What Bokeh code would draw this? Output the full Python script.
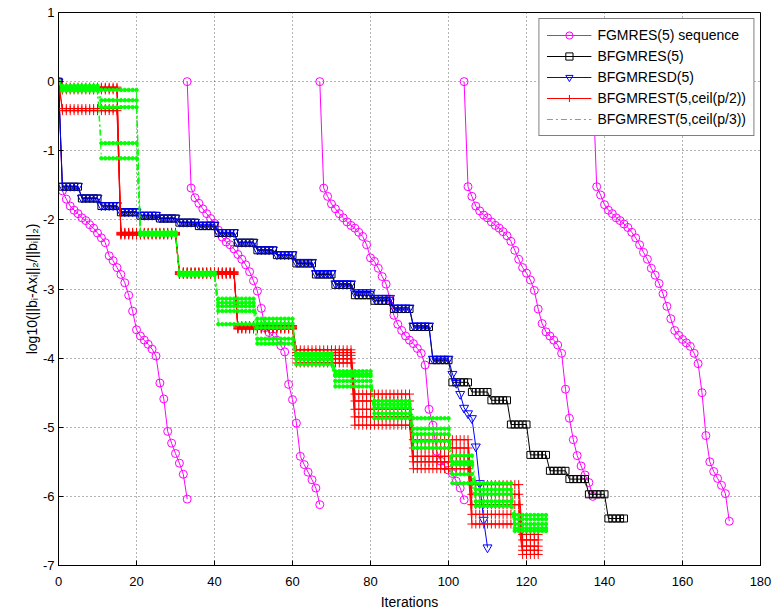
import numpy as np
from bokeh.plotting import figure
from bokeh.models import FixedTicker, Legend, LegendItem
from bokeh.embed import file_html
from bokeh.resources import INLINE

# ---------------- data ----------------
x_ticks = [0, 20, 40, 60, 80, 100, 120, 140, 160, 180]
y_ticks = [-7, -6, -5, -4, -3, -2, -1, 0, 1]

# FGMRES(5) sequence: five consecutive runs (first iteration, residual history)
fg_starts = [0, 33, 67, 104, 137]
fg_run1 = [0, -1.58, -1.70, -1.80, -1.86, -1.91, -1.97, -2.01, -2.07, -2.12, -2.19,
           -2.26, -2.33, -2.52, -2.59, -2.69, -2.79, -2.91, -3.09, -3.32, -3.59,
           -3.68, -3.74, -3.80, -3.87, -3.97, -4.36, -4.59, -5.06, -5.23, -5.38,
           -5.52, -5.68, -6.04]
fg_run2 = [0, -1.54, -1.68, -1.76, -1.84, -1.91, -1.98, -2.05, -2.15, -2.25, -2.32,
           -2.36, -2.42, -2.50, -2.57, -2.65, -2.75, -2.88, -3.03, -3.28, -3.56,
           -3.63, -3.68, -3.74, -3.82, -3.91, -4.38, -4.60, -4.94, -5.42, -5.54,
           -5.65, -5.76, -5.88, -6.12]
fg_run3 = [0, -1.54, -1.66, -1.77, -1.84, -1.91, -1.97, -2.03, -2.08, -2.12, -2.18,
           -2.24, -2.36, -2.55, -2.60, -2.70, -2.82, -2.93, -3.15, -3.38, -3.51,
           -3.60, -3.68, -3.74, -3.79, -3.86, -3.93, -4.10, -4.74, -4.97, -5.35,
           -5.49, -5.56, -5.62, -5.67, -5.78, -5.88, -6.05]
fg_run4 = [0, -1.52, -1.66, -1.80, -1.87, -1.93, -1.97, -2.03, -2.08, -2.12, -2.17,
           -2.23, -2.31, -2.44, -2.57, -2.69, -2.77, -2.87, -3.02, -3.29, -3.50,
           -3.62, -3.68, -3.74, -3.81, -3.93, -4.45, -4.87, -5.18, -5.41, -5.56,
           -5.69, -5.80, -6.00]
fg_run5 = [0, -1.52, -1.64, -1.78, -1.86, -1.91, -1.97, -2.01, -2.06, -2.11, -2.18,
           -2.26, -2.36, -2.47, -2.57, -2.70, -2.80, -2.92, -3.07, -3.25, -3.43,
           -3.60, -3.67, -3.73, -3.78, -3.83, -3.93, -4.08, -4.50, -5.12, -5.50,
           -5.64, -5.74, -5.84, -5.96, -6.36]
fg_runs = [fg_run1, fg_run2, fg_run3, fg_run4, fg_run5]

# BFGMRES(5): residual level held over each block cycle (5 iterations per cycle)
bf_cycle = 5
bf_levels = [-1.52, -1.69, -1.80, -1.89, -1.94, -1.98, -2.04, -2.09, -2.19, -2.33,
             -2.44, -2.51, -2.63, -2.79, -2.94, -3.09, -3.17, -3.29, -3.55, -4.03,
             -4.35, -4.49, -4.61, -4.96, -5.40, -5.63, -5.75, -5.97, -6.32]

# BFGMRESD(5): cycle levels, then per-iteration tail
bfd_levels = [-1.51, -1.68, -1.79, -1.88, -1.93, -1.97, -2.03, -2.07, -2.18, -2.32,
              -2.43, -2.50, -2.61, -2.77, -2.92, -3.05, -3.13, -3.27, -3.53, -4.01]
bfd_tail = [-4.23, -4.36, -4.52, -4.72, -4.80, -4.87, -5.28, -5.81, -6.34, -6.74]

# BFGMREST(5,ceil(p/2)): segments (first / last iteration) and levels for the 5 RHS
rt2_first = [1, 16, 31, 46, 61, 76, 91, 106, 119]
rt2_last = [15, 30, 45, 60, 75, 90, 105, 118, 123]
rt2_levels = [
    [-0.08, -0.10, -0.12, -0.39, -0.42],
    [-2.18, -2.19, -2.20, -2.21, -2.22],
    [-2.75, -2.76, -2.77, -2.78, -2.79],
    [-3.53, -3.54, -3.56, -3.57, -3.58],
    [-3.88, -3.92, -3.96, -4.01, -4.07],
    [-4.52, -4.62, -4.74, -4.85, -4.97],
    [-5.18, -5.30, -5.42, -5.50, -5.60],
    [-5.83, -5.97, -6.12, -6.26, -6.40],
    [-6.55, -6.63, -6.72, -6.78, -6.84],
]

# BFGMREST(5,ceil(p/3))
rt3_first = [1, 11, 21, 31, 41, 51, 61, 71, 81, 91, 101, 107, 117]
rt3_last = [10, 20, 30, 40, 50, 60, 70, 80, 90, 100, 106, 116, 125]
rt3_levels = [
    [-0.06, -0.08, -0.10, -0.12, -0.13],
    [-0.12, -0.27, -0.37, -0.89, -1.11],
    [-2.18, -2.19, -2.20, -2.21, -2.22],
    [-2.76, -2.77, -2.78, -2.79, -2.80],
    [-3.14, -3.20, -3.25, -3.32, -3.51],
    [-3.43, -3.50, -3.56, -3.72, -3.79],
    [-3.93, -3.95, -3.97, -4.02, -4.09],
    [-4.19, -4.23, -4.26, -4.33, -4.41],
    [-4.62, -4.67, -4.72, -4.80, -4.87],
    [-4.87, -5.02, -5.10, -5.20, -5.30],
    [-5.41, -5.50, -5.54, -5.68, -5.81],
    [-5.81, -5.90, -5.97, -6.07, -6.14],
    [-6.27, -6.33, -6.40, -6.46, -6.50],
]

labels = ["FGMRES(5) sequence", "BFGMRES(5)", "BFGMRESD(5)",
          "BFGMREST(5,ceil(p/2))", "BFGMREST(5,ceil(p/3))"]

# ---------------- build series ----------------
fg_x, fg_y = [], []
for s, run in zip(fg_starts, fg_runs):
    fg_x += list(range(s, s + len(run))) + [np.nan]
    fg_y += list(run) + [np.nan]


def cycles(levels, n):
    xs, ys = [0], [0.0]
    for k, v in enumerate(levels):
        xs += list(range(k * n + 1, k * n + n + 1))
        ys += [v] * n
    return xs, ys


bf_x, bf_y = cycles(bf_levels, bf_cycle)
bfd_x, bfd_y = cycles(bfd_levels, bf_cycle)
bfd_x += list(range(bfd_x[-1] + 1, bfd_x[-1] + 1 + len(bfd_tail)))
bfd_y += bfd_tail


def segs(first, last, levels, j):
    xs, ys = [0], [0.0]
    for a, b, lv in zip(first, last, levels):
        xs += list(range(a, b + 1))
        ys += [lv[j]] * (b - a + 1)
    return xs, ys


FONT = "Liberation Sans"

p = figure(width=774, height=613, x_range=(0, 180), y_range=(-7, 1),
           output_backend="svg", toolbar_location=None,
           min_border_left=58, min_border_right=14, min_border_top=12,
           min_border_bottom=48, background_fill_color="white",
           border_fill_color="white")

p.outline_line_color = "black"
p.outline_line_width = 1
p.outline_line_alpha = 1

for ax, ticks in ((p.xaxis, x_ticks), (p.yaxis, y_ticks)):
    ax.ticker = FixedTicker(ticks=ticks)
    ax.major_label_overrides = {t: str(t) for t in ticks}
    ax.major_tick_in = 5
    ax.major_tick_out = 0
    ax.minor_tick_line_color = None
    ax.axis_line_color = "black"
    ax.major_tick_line_color = "black"
    ax.major_label_text_font = FONT
    ax.major_label_text_font_size = "13px"
    ax.major_label_text_color = "black"
    ax.axis_label_text_font = FONT
    ax.axis_label_text_font_size = "14px"
    ax.axis_label_text_font_style = "normal"
    ax.axis_label_text_color = "black"

p.xaxis.axis_label = "Iterations"
p.yaxis.axis_label = "log10(||b\u1d62-Ax\u1d62||\u2082/||b\u1d62||\u2082)"
p.xaxis.major_label_standoff = 11
p.xaxis.axis_label_standoff = 5
p.yaxis.major_label_standoff = 4
p.yaxis.axis_label_standoff = 0

for g in (p.xgrid, p.ygrid):
    g.grid_line_color = "#444444"
    g.grid_line_dash = "1 3"
    g.grid_line_width = 1
    g.grid_line_alpha = 0.8

# FGMRES runs (magenta circles)
r_fg_l = p.line(fg_x, fg_y, line_color="#ff00ff", line_width=1)
r_fg_m = p.scatter(fg_x, fg_y, marker="circle", size=8, line_color="#ff00ff",
                   fill_color=None, line_width=1)

# BFGMRES(5) (black squares)
r_bf_l = p.line(bf_x, bf_y, line_color="black", line_width=1)
r_bf_m = p.scatter(bf_x, bf_y, marker="square", size=7, line_color="black",
                   fill_color=None, line_width=1)

# BFGMRESD(5) (blue triangles)
r_bd_l = p.line(bfd_x, bfd_y, line_color="#0000ff", line_width=1)
r_bd_m = p.scatter(bfd_x, bfd_y, marker="inverted_triangle", size=9,
                   line_color="#0000ff", fill_color=None, line_width=1)

# BFGMREST(5,ceil(p/2)) (red +)
red_items = []
for j in range(5):
    xs, ys = segs(rt2_first, rt2_last, rt2_levels, j)
    rl = p.line(xs, ys, line_color="#ff0000", line_width=1)
    rm = p.scatter(xs, ys, marker="cross", size=9, line_color="#ff0000",
                   line_width=1)
    if j == 0:
        red_items = [rl, rm]

# BFGMREST(5,ceil(p/3)) (green dash-dot with dots)
green_items = []
for j in range(5):
    xs, ys = segs(rt3_first, rt3_last, rt3_levels, j)
    gl = p.line(xs, ys, line_color="#00ff00", line_width=1, line_dash="6 3 2 3")
    gm = p.scatter(xs, ys, marker="circle", size=3.5, line_color="#00ff00",
                   fill_color="#00ff00", line_width=1)
    if j == 0:
        green_items = [gl]

legend = Legend(items=[
    LegendItem(label=labels[0], renderers=[r_fg_l, r_fg_m]),
    LegendItem(label=labels[1], renderers=[r_bf_l, r_bf_m]),
    LegendItem(label=labels[2], renderers=[r_bd_l, r_bd_m]),
    LegendItem(label=labels[3], renderers=red_items),
    LegendItem(label=labels[4], renderers=green_items),
], location="top_right")
legend.label_text_font = FONT
legend.label_text_font_size = "14px"
legend.label_text_color = "black"
legend.glyph_width = 45
legend.glyph_height = 18
legend.label_height = 18
legend.label_standoff = 6
legend.spacing = 3
legend.padding = 7
legend.margin = 6
legend.border_line_color = "black"
legend.border_line_width = 1
legend.background_fill_color = "white"
legend.background_fill_alpha = 1
p.add_layout(legend)

open("out.html", "w").write(file_html(p, INLINE))
